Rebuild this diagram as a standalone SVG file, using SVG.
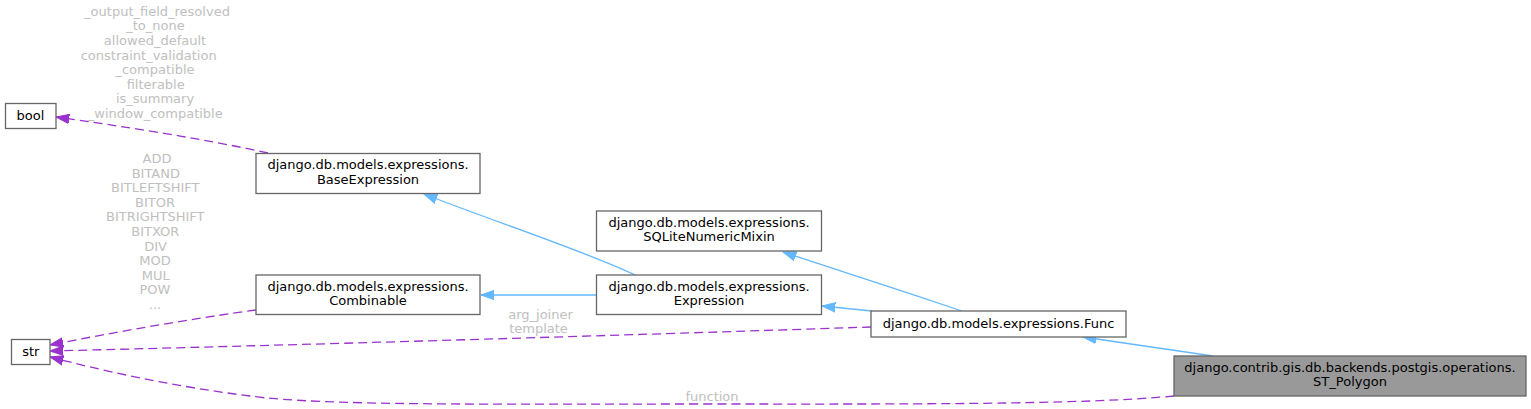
<svg xmlns="http://www.w3.org/2000/svg" width="1531" height="409" viewBox="0 0 1531 409">
<style>
.node rect{fill:#ffffff;stroke:#666666;stroke-width:1.3}
.node.cur rect{fill:#999999}
.node text{font-family:"DejaVu Sans","Liberation Sans",sans-serif;font-size:13px;fill:#000000;text-anchor:middle}
.lbl{font-family:"DejaVu Sans","Liberation Sans",sans-serif;font-size:13px;fill:#c0c0c0;text-anchor:middle}
.inh{fill:none;stroke:#63b8ff;stroke-width:1.3}
.use{fill:none;stroke:#9a32cd;stroke-width:1.3;stroke-dasharray:9,5}
</style>
<defs>
<marker id="aBlue" markerUnits="userSpaceOnUse" viewBox="0 -6 14 12" markerWidth="14" markerHeight="12" refX="13.3" refY="0" orient="auto">
<path d="M0,-4.7 L13.3,0 L0,4.7 z" fill="#63b8ff" stroke="#63b8ff" stroke-width="1"/>
</marker>
<marker id="aPurple" markerUnits="userSpaceOnUse" viewBox="0 -6 14 12" markerWidth="14" markerHeight="12" refX="13.3" refY="0" orient="auto">
<path d="M0,-4.7 L13.3,0 L0,4.7 z" fill="#9a32cd" stroke="#9a32cd" stroke-width="1"/>
</marker>
</defs>
<rect x="0" y="0" width="1531" height="409" fill="#ffffff"/>
<g id="edges">
<path class="use" d="M268,153 C200,138 120,126 56,117" marker-end="url(#aPurple)"/>
<path class="use" d="M256,310 C190,319 110,333 50,345" marker-end="url(#aPurple)"/>
<path class="use" d="M871,327 C600,336 300,345 50,351" marker-end="url(#aPurple)"/>
<path class="use" d="M1174,396 C1080,405 900,404 700,404 C500,404 320,406 250,396 C170,386 100,370 50,357" marker-end="url(#aPurple)"/>
<path class="inh" d="M635,275 C590,253 490,220 424,194" marker-end="url(#aBlue)"/>
<path class="inh" d="M597,295 L481,295" marker-end="url(#aBlue)"/>
<path class="inh" d="M872,311 L822,306" marker-end="url(#aBlue)"/>
<path class="inh" d="M962,311 C900,290 830,268 783,252" marker-end="url(#aBlue)"/>
<path class="inh" d="M1213,356 L1083,337" marker-end="url(#aBlue)"/>
<g id="labels">
<text class="lbl" x="157" y="15.5">_output_field_resolved</text>
<text class="lbl" x="155.5" y="30.2">_to_none</text>
<text class="lbl" x="155" y="44.8">allowed_default</text>
<text class="lbl" x="148.7" y="59.5">constraint_validation</text>
<text class="lbl" x="155" y="74.1">_compatible</text>
<text class="lbl" x="155.7" y="88.8">filterable</text>
<text class="lbl" x="155" y="103.4">is_summary</text>
<text class="lbl" x="155.3" y="118.1">_window_compatible</text>
<text class="lbl" x="157" y="163">ADD</text>
<text class="lbl" x="155.8" y="177.6">BITAND</text>
<text class="lbl" x="155.3" y="192.2">BITLEFTSHIFT</text>
<text class="lbl" x="155" y="206.8">BITOR</text>
<text class="lbl" x="155.3" y="221.4">BITRIGHTSHIFT</text>
<text class="lbl" x="155.3" y="236">BITXOR</text>
<text class="lbl" x="155.5" y="250.6">DIV</text>
<text class="lbl" x="155" y="265.2">MOD</text>
<text class="lbl" x="155.8" y="279.8">MUL</text>
<text class="lbl" x="155" y="294.4">POW</text>
<text class="lbl" x="155" y="309">...</text>
<text class="lbl" x="540.5" y="318.5">arg_joiner</text>
<text class="lbl" x="538.5" y="332.5">template</text>
<text class="lbl" x="712" y="400.5">function</text>
</g>
</g>
<g id="node-bool" class="node">
<rect x="5.5" y="103.5" width="50.5" height="25"/>
<text x="30.5" y="120">bool</text>
</g>
<g id="node-str" class="node">
<rect x="11.5" y="339.5" width="38.5" height="25"/>
<text x="30.8" y="356">str</text>
</g>
<g id="node-baseexpression" class="node">
<rect x="256" y="153.5" width="224" height="40"/>
<text x="368" y="169">django.db.models.expressions.</text>
<text x="368" y="184">BaseExpression</text>
</g>
<g id="node-combinable" class="node">
<rect x="256" y="275" width="224" height="39.5"/>
<text x="368" y="290.5">django.db.models.expressions.</text>
<text x="368" y="305.3">Combinable</text>
</g>
<g id="node-sqlite" class="node">
<rect x="596.5" y="211" width="225" height="40"/>
<text x="709" y="226.5">django.db.models.expressions.</text>
<text x="709" y="241.3">SQLiteNumericMixin</text>
</g>
<g id="node-expression" class="node">
<rect x="596.5" y="275" width="225" height="39.5"/>
<text x="709" y="290.5">django.db.models.expressions.</text>
<text x="709" y="305.3">Expression</text>
</g>
<g id="node-func" class="node">
<rect x="871" y="311" width="255" height="26"/>
<text x="998.5" y="327.5">django.db.models.expressions.Func</text>
</g>
<g id="node-st-polygon" class="node cur">
<rect x="1174" y="356" width="352" height="40"/>
<text x="1350" y="371.5">django.contrib.gis.db.backends.postgis.operations.</text>
<text x="1350" y="386.3">ST_Polygon</text>
</g>
</svg>
